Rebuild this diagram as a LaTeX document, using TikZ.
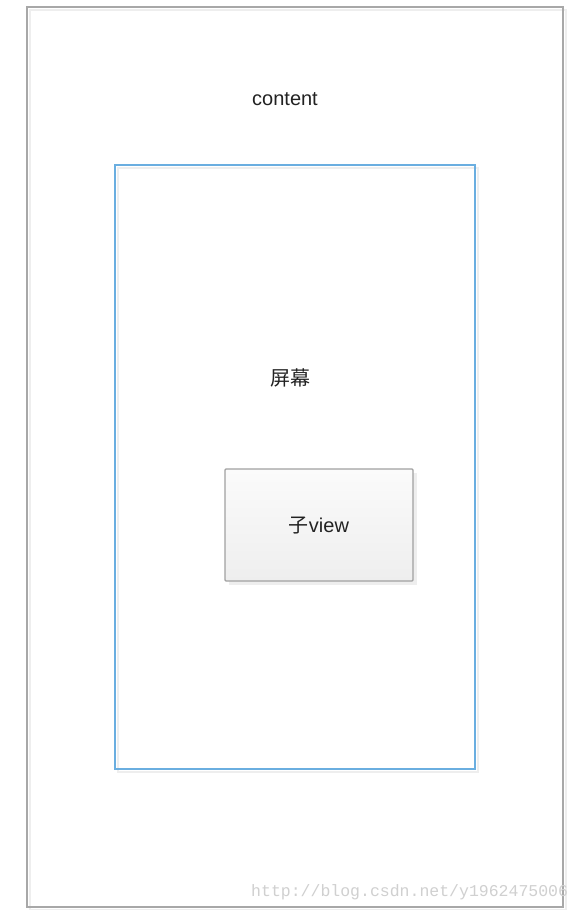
\documentclass[tikz,border=0pt]{standalone}
\usepackage{fontspec}
\setmainfont{Liberation Sans}
\newfontfamily\cjk{Noto Sans CJK SC}
\newfontfamily\wmfont{Liberation Mono}
\usetikzlibrary{calc}
\definecolor{outerline}{HTML}{A8A8A8}
\definecolor{shadowline}{HTML}{EEEEEE}
\definecolor{blueline}{HTML}{6AAEE0}
\definecolor{childline}{HTML}{A0A0A0}
\definecolor{childtop}{HTML}{FBFBFB}
\definecolor{childbot}{HTML}{EEEEEE}
\definecolor{textcol}{HTML}{222222}
\definecolor{wmcol}{HTML}{D0D0D0}
\tikzset{
  lbl/.style={text=textcol, font=\fontsize{20}{22}\selectfont, inner sep=0pt},
  shadowbox/.style={draw=shadowline, line width=1.2pt},
}
\begin{document}
\begin{tikzpicture}[x=1pt,y=-1pt]
\useasboundingbox (0,0) rectangle (582,910);
\fill[white] (0,0) rectangle (582,910);
% outer content box
\draw[shadowbox] (30,10) rectangle (566,910);
\draw[outerline, line width=1.2pt] (27,7) rectangle (563,907);
\node[lbl] (content) at (285,99) {content};
% screen box
\draw[shadowbox] (118,168) rectangle (478,772);
\draw[blueline, line width=1.2pt] (115,165) rectangle (475,769);
\node[lbl] (screen) at (290,378) {\cjk 屏幕};
% child view
\fill[shadowline] (229,473) rectangle (417,585);
\shade[top color=childtop, bottom color=childbot, draw=childline, line width=1.1pt, rounded corners=1pt] (225,469) rectangle (413,581);
\node[lbl] (child) at (319,526) {{\cjk 子}view};
% watermark
\begin{scope}
\clip (0,0) rectangle (569,910);
\node[anchor=base west, inner sep=0pt, text=wmcol, font=\wmfont\fontsize{16.5}{18}\selectfont] (wm) at (251,896) {http://blog.csdn.net/y1962475006};
\end{scope}
\end{tikzpicture}
\end{document}
